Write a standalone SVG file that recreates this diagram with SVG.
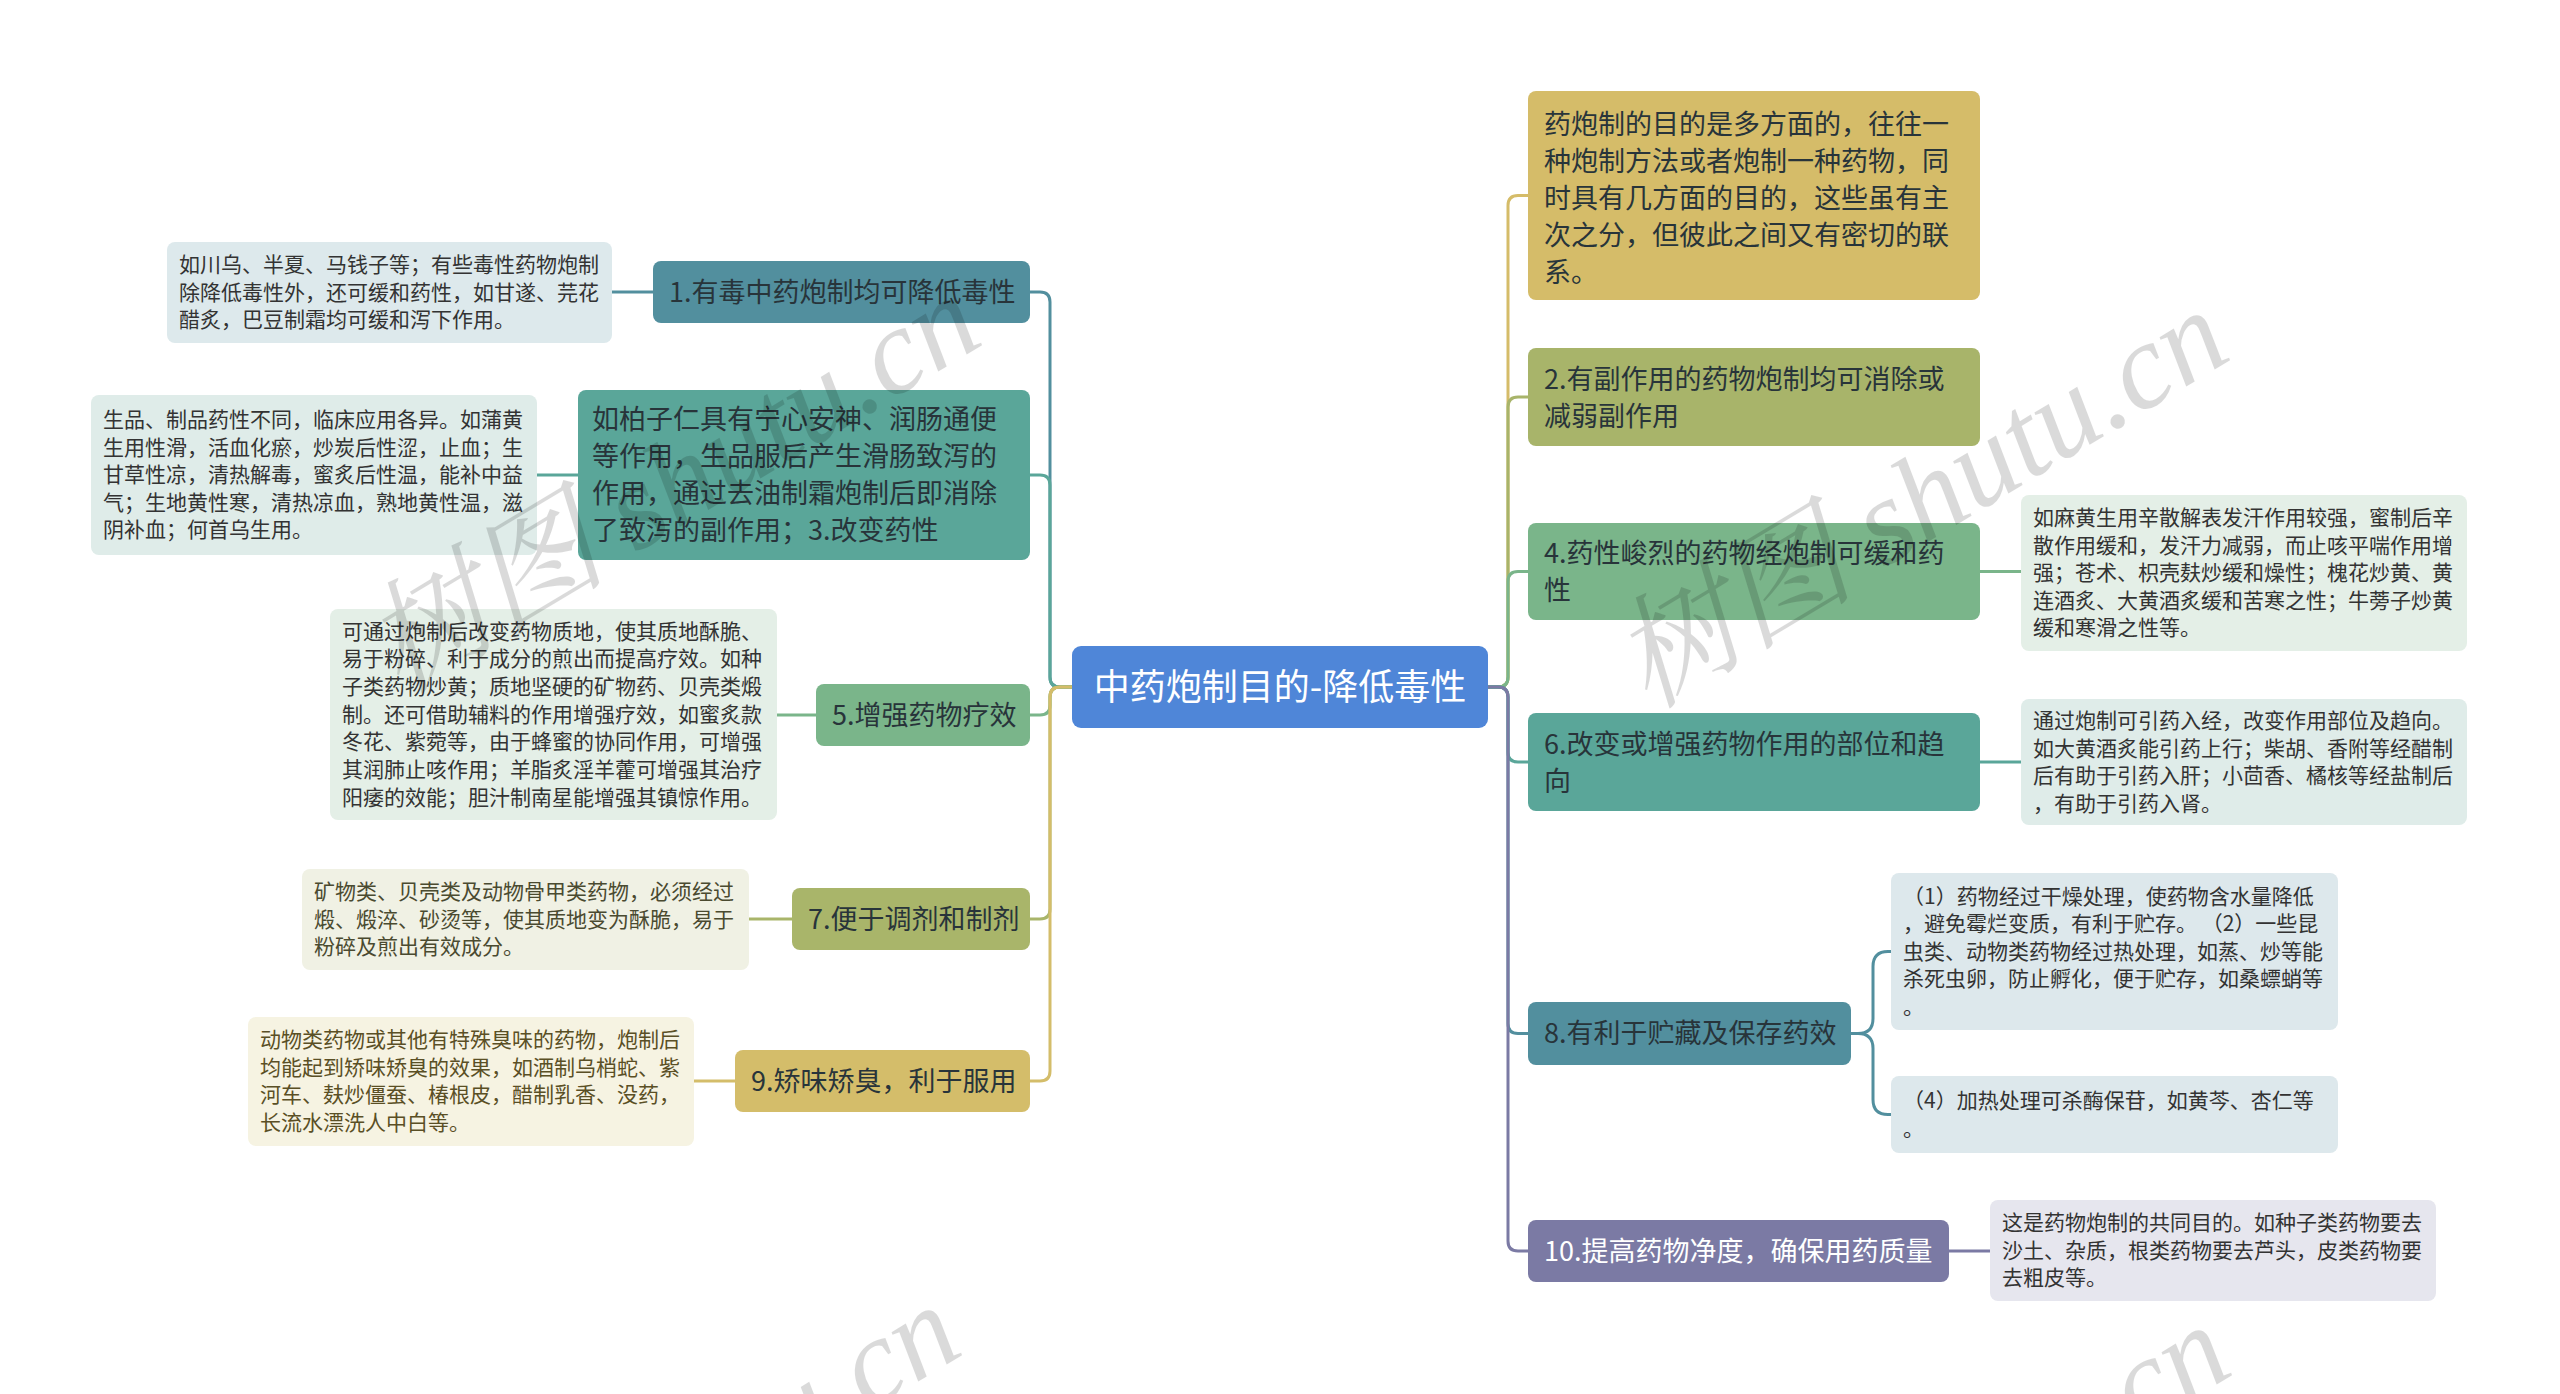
<svg xmlns="http://www.w3.org/2000/svg" width="2560" height="1394" viewBox="0 0 2560 1394">
<style>
text{font-family:"Noto Sans CJK SC","Noto Sans",sans-serif;}
.t27{font-size:27px;fill:#28343a}
.t21{font-size:21px;fill:#333333}
.tw{fill:#ffffff}
.conn{fill:none;stroke-width:3;stroke-linecap:round}
.wm{font-family:"Liberation Serif","Noto Serif CJK SC",serif;font-style:italic;font-size:122px;fill:#000000;opacity:0.14}
</style>
<rect x="0" y="0" width="2560" height="1394" fill="#ffffff"/>

<g id="connectors">
  <path class="conn" stroke="#528f9e" d="M1072,687 H1060 Q1050,687 1050,677 V302 Q1050,292 1040,292 H1030"/>
  <path class="conn" stroke="#5aa699" d="M1072,687 H1060 Q1050,687 1050,677 V485 Q1050,475 1040,475 H1030"/>
  <path class="conn" stroke="#7ab58a" d="M1072,687 H1060 Q1050,687 1050,697 V705 Q1050,715 1040,715 H1030"/>
  <path class="conn" stroke="#a9b56a" d="M1072,687 H1060 Q1050,687 1050,697 V909 Q1050,919 1040,919 H1030"/>
  <path class="conn" stroke="#d4bd6a" d="M1072,687 H1060 Q1050,687 1050,697 V1071 Q1050,1081 1040,1081 H1030"/>

  <path class="conn" stroke="#d5bc69" d="M1488,687 H1498 Q1508,687 1508,677 V205.5 Q1508,195.5 1518,195.5 H1528"/>
  <path class="conn" stroke="#a8b46a" d="M1488,687 H1498 Q1508,687 1508,677 V407 Q1508,397 1518,397 H1528"/>
  <path class="conn" stroke="#7ab58a" d="M1488,687 H1498 Q1508,687 1508,677 V581.5 Q1508,571.5 1518,571.5 H1528"/>
  <path class="conn" stroke="#5aa699" d="M1488,687 H1498 Q1508,687 1508,697 V752 Q1508,762 1518,762 H1528"/>
  <path class="conn" stroke="#528f9e" d="M1488,687 H1498 Q1508,687 1508,697 V1023.5 Q1508,1033.5 1518,1033.5 H1528"/>
  <path class="conn" stroke="#7b7aa4" d="M1488,687 H1498 Q1508,687 1508,697 V1241 Q1508,1251 1518,1251 H1528"/>

  <path class="conn" stroke="#528f9e" d="M653,292 H612"/>
  <path class="conn" stroke="#5aa699" d="M578,475 H537"/>
  <path class="conn" stroke="#7ab58a" d="M816,715 H777"/>
  <path class="conn" stroke="#a9b56a" d="M792,919 H749"/>
  <path class="conn" stroke="#d4bd6a" d="M735,1081 H694"/>
  <path class="conn" stroke="#7ab58a" d="M1980,571.5 H2021"/>
  <path class="conn" stroke="#5aa699" d="M1980,762 H2021"/>
  <path class="conn" stroke="#528f9e" d="M1851,1033.5 H1858 Q1873,1033.5 1873,1018.5 V966.5 Q1873,951.5 1888,951.5 H1891"/>
  <path class="conn" stroke="#528f9e" d="M1851,1033.5 H1858 Q1873,1033.5 1873,1048.5 V1099.5 Q1873,1114.5 1888,1114.5 H1891"/>
  <path class="conn" stroke="#7b7aa4" d="M1949,1251 H1990"/>
</g>

<g id="center">
  <rect x="1072" y="646" width="416" height="82" rx="9" fill="#4f86d8"/>
  <text x="1280" y="700" text-anchor="middle" font-size="36" class="tw">中药炮制目的-降低毒性</text>
</g>

<g id="node1">
  <rect x="653" y="261" width="377" height="62" rx="8" fill="#528f9e"/>
  <text class="t27" x="669" y="302">1.有毒中药炮制均可降低毒性</text>
</g>
<g id="leaf1">
  <rect x="167" y="242" width="445" height="101" rx="8" fill="#dde9ec"/>
  <text class="t21" x="179"><tspan x="179" y="272">如川乌、半夏、马钱子等；有些毒性药物炮制</tspan><tspan x="179" y="299.5">除降低毒性外，还可缓和药性，如甘遂、芫花</tspan><tspan x="179" y="327">醋炙，巴豆制霜均可缓和泻下作用。</tspan></text>
</g>

<g id="node3">
  <rect x="578" y="390" width="452" height="170" rx="8" fill="#5aa699"/>
  <text class="t27"><tspan x="592" y="429">如柏子仁具有宁心安神、润肠通便</tspan><tspan x="592" y="466">等作用，生品服后产生滑肠致泻的</tspan><tspan x="592" y="503">作用，通过去油制霜炮制后即消除</tspan><tspan x="592" y="540">了致泻的副作用；3.改变药性</tspan></text>
</g>
<g id="leaf3">
  <rect x="91" y="395" width="446" height="160" rx="8" fill="#dfece9"/>
  <text class="t21"><tspan x="103" y="427">生品、制品药性不同，临床应用各异。如蒲黄</tspan><tspan x="103" y="454.5">生用性滑，活血化瘀，炒炭后性涩，止血；生</tspan><tspan x="103" y="482">甘草性凉，清热解毒，蜜炙后性温，能补中益</tspan><tspan x="103" y="509.5">气；生地黄性寒，清热凉血，熟地黄性温，滋</tspan><tspan x="103" y="537">阴补血；何首乌生用。</tspan></text>
</g>

<g id="node5">
  <rect x="816" y="684" width="214" height="62" rx="8" fill="#7ab58a"/>
  <text class="t27" x="832" y="725">5.增强药物疗效</text>
</g>
<g id="leaf5">
  <rect x="330" y="609" width="447" height="211" rx="8" fill="#e4efe7"/>
  <text class="t21"><tspan x="342" y="638.5">可通过炮制后改变药物质地，使其质地酥脆、</tspan><tspan x="342" y="666">易于粉碎、利于成分的煎出而提高疗效。如种</tspan><tspan x="342" y="693.5">子类药物炒黄；质地坚硬的矿物药、贝壳类煅</tspan><tspan x="342" y="721.5">制。还可借助辅料的作用增强疗效，如蜜炙款</tspan><tspan x="342" y="749">冬花、紫菀等，由于蜂蜜的协同作用，可增强</tspan><tspan x="342" y="777">其润肺止咳作用；羊脂炙淫羊藿可增强其治疗</tspan><tspan x="342" y="804.5">阳痿的效能；胆汁制南星能增强其镇惊作用。</tspan></text>
</g>

<g id="node7">
  <rect x="792" y="888" width="238" height="62" rx="8" fill="#a9b56a"/>
  <text class="t27" x="808" y="929">7.便于调剂和制剂</text>
</g>
<g id="leaf7">
  <rect x="302" y="869" width="447" height="101" rx="8" fill="#f0f1e4"/>
  <text class="t21" style="fill:#4a4a30"><tspan x="314" y="899">矿物类、贝壳类及动物骨甲类药物，必须经过</tspan><tspan x="314" y="926.5">煅、煅淬、砂烫等，使其质地变为酥脆，易于</tspan><tspan x="314" y="954">粉碎及煎出有效成分。</tspan></text>
</g>

<g id="node9">
  <rect x="735" y="1050" width="295" height="62" rx="8" fill="#d4bd6a"/>
  <text class="t27" x="751" y="1091">9.矫味矫臭，利于服用</text>
</g>
<g id="leaf9">
  <rect x="248" y="1017" width="446" height="129" rx="8" fill="#f6f3e2"/>
  <text class="t21" style="fill:#5a4f25"><tspan x="260" y="1047">动物类药物或其他有特殊臭味的药物，炮制后</tspan><tspan x="260" y="1074.5">均能起到矫味矫臭的效果，如酒制乌梢蛇、紫</tspan><tspan x="260" y="1102">河车、麸炒僵蚕、椿根皮，醋制乳香、没药，</tspan><tspan x="260" y="1130">长流水漂洗人中白等。</tspan></text>
</g>

<g id="nodeTop">
  <rect x="1528" y="91" width="452" height="209" rx="8" fill="#d5bc69"/>
  <text class="t27"><tspan x="1544" y="134">药炮制的目的是多方面的，往往一</tspan><tspan x="1544" y="171">种炮制方法或者炮制一种药物，同</tspan><tspan x="1544" y="208">时具有几方面的目的，这些虽有主</tspan><tspan x="1544" y="245">次之分，但彼此之间又有密切的联</tspan><tspan x="1544" y="282">系。</tspan></text>
</g>

<g id="node2">
  <rect x="1528" y="348" width="452" height="98" rx="8" fill="#a8b46a"/>
  <text class="t27"><tspan x="1544" y="388.5">2.有副作用的药物炮制均可消除或</tspan><tspan x="1544" y="425.5">减弱副作用</tspan></text>
</g>

<g id="node4">
  <rect x="1528" y="523" width="452" height="97" rx="8" fill="#7ab58a"/>
  <text class="t27"><tspan x="1544" y="563">4.药性峻烈的药物经炮制可缓和药</tspan><tspan x="1544" y="600">性</tspan></text>
</g>
<g id="leaf4">
  <rect x="2021" y="495" width="446" height="156" rx="8" fill="#e4efe7"/>
  <text class="t21"><tspan x="2033" y="525">如麻黄生用辛散解表发汗作用较强，蜜制后辛</tspan><tspan x="2033" y="552.5">散作用缓和，发汗力减弱，而止咳平喘作用增</tspan><tspan x="2033" y="580">强；苍术、枳壳麸炒缓和燥性；槐花炒黄、黄</tspan><tspan x="2033" y="607.5">连酒炙、大黄酒炙缓和苦寒之性；牛蒡子炒黄</tspan><tspan x="2033" y="635">缓和寒滑之性等。</tspan></text>
</g>

<g id="node6">
  <rect x="1528" y="713" width="452" height="98" rx="8" fill="#5aa699"/>
  <text class="t27"><tspan x="1544" y="753.5">6.改变或增强药物作用的部位和趋</tspan><tspan x="1544" y="790.5">向</tspan></text>
</g>
<g id="leaf6">
  <rect x="2021" y="699" width="446" height="126" rx="8" fill="#dfece9"/>
  <text class="t21"><tspan x="2033" y="728">通过炮制可引药入经，改变作用部位及趋向。</tspan><tspan x="2033" y="755.5">如大黄酒炙能引药上行；柴胡、香附等经醋制</tspan><tspan x="2033" y="783">后有助于引药入肝；小茴香、橘核等经盐制后</tspan><tspan x="2033" y="810.5">，有助于引药入肾。</tspan></text>
</g>

<g id="node8">
  <rect x="1528" y="1002" width="323" height="63" rx="8" fill="#528f9e"/>
  <text class="t27" x="1544" y="1043">8.有利于贮藏及保存药效</text>
</g>
<g id="leaf8a">
  <rect x="1891" y="873" width="447" height="157" rx="8" fill="#dde8ec"/>
  <text class="t21"><tspan x="1903" y="903.5">（1）药物经过干燥处理，使药物含水量降低</tspan><tspan x="1903" y="931">，避免霉烂变质，有利于贮存。 （2）一些昆</tspan><tspan x="1903" y="958.5">虫类、动物类药物经过热处理，如蒸、炒等能</tspan><tspan x="1903" y="986">杀死虫卵，防止孵化，便于贮存，如桑螵蛸等</tspan><tspan x="1903" y="1014">。</tspan></text>
</g>
<g id="leaf8b">
  <rect x="1891" y="1076" width="447" height="77" rx="8" fill="#dde8ec"/>
  <text class="t21"><tspan x="1903" y="1108">（4）加热处理可杀酶保苷，如黄芩、杏仁等</tspan><tspan x="1903" y="1136">。</tspan></text>
</g>

<g id="node10">
  <rect x="1528" y="1220" width="421" height="62" rx="8" fill="#7b7aa4"/>
  <text class="t27 tw" x="1544" y="1261" style="fill:#ffffff">10.提高药物净度，确保用药质量</text>
</g>
<g id="leaf10">
  <rect x="1990" y="1200" width="446" height="101" rx="8" fill="#e6e6ee"/>
  <text class="t21"><tspan x="2002" y="1230">这是药物炮制的共同目的。如种子类药物要去</tspan><tspan x="2002" y="1257.5">沙土、杂质，根类药物要去芦头，皮类药物要</tspan><tspan x="2002" y="1285">去粗皮等。</tspan></text>
</g>

<g id="watermarks">
  <text class="wm" transform="translate(400,695) rotate(-31)">树图 shutu.cn</text>
  <text class="wm" transform="translate(1648,710) rotate(-31)">树图 shutu.cn</text>
  <text class="wm" transform="translate(380,1705) rotate(-31)">树图 shutu.cn</text>
  <text class="wm" transform="translate(1650,1725) rotate(-31)">树图 shutu.cn</text>
</g>
</svg>
